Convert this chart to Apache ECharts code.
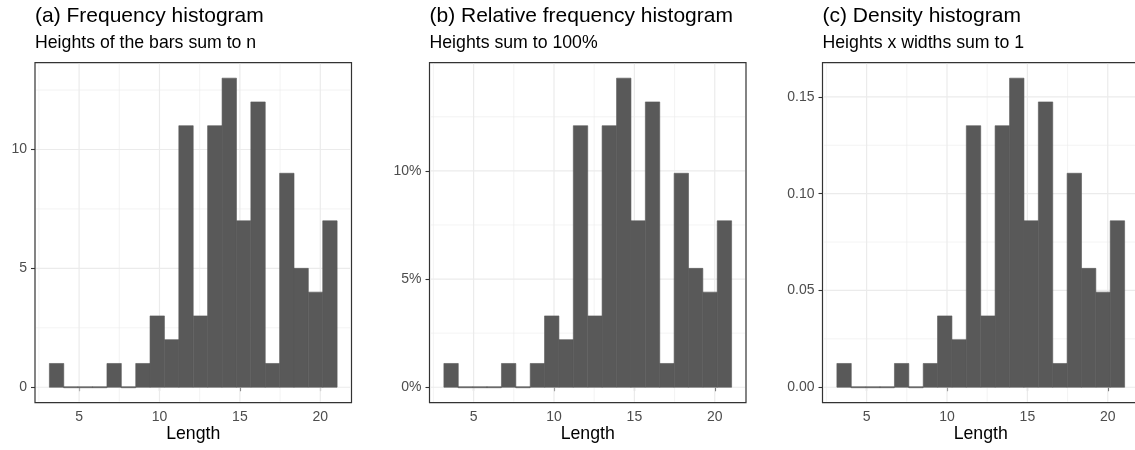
<!DOCTYPE html>
<html>
<head>
<meta charset="utf-8">
<script src="https://cdn.jsdelivr.net/npm/echarts@6/dist/echarts.min.js"></script>
<style>
html,body{margin:0;padding:0;background:#fff;overflow:hidden;}
#chart{width:1150px;height:450px;}
</style>
</head>
<body>
<div id="chart"></div>
<script>
// ---- data ----
const binCenters = [3.60, 4.49, 5.39, 6.28, 7.18, 8.07, 8.97, 9.86, 10.76, 11.65,
                    12.55, 13.44, 14.34, 15.23, 16.13, 17.02, 17.92, 18.81, 19.71, 20.60];
const binWidth = 0.8947;
const counts = [1, 0, 0, 0, 1, 0, 1, 3, 2, 11, 3, 11, 13, 7, 12, 1, 9, 5, 4, 7];
const n = counts.reduce((a, b) => a + b, 0);
const relFreq = counts.map(c => c / n * 100);            // percent
const density = counts.map(c => c / (n * binWidth));

const titles = ['(a) Frequency histogram', '(b) Relative frequency histogram', '(c) Density histogram'];
const subtitles = ['Heights of the bars sum to n', 'Heights sum to 100%', 'Heights x widths sum to 1'];
const xTitle = 'Length';

const xMajor = [5, 10, 15, 20];
const xMinor = [2.5, 7.5, 12.5, 17.5];
const yMajorA = [0, 5, 10];
const yMinorA = [2.5, 7.5, 12.5];
const yMajorB = [0, 5, 10];
const yMinorB = [2.5, 7.5, 12.5];
const yMajorC = [0, 0.05, 0.10, 0.15];
const yMinorC = [0.025, 0.075, 0.125];

// ---- layout ----
const FONT = '"Liberation Sans", Arial, Helvetica, sans-serif';
const panels = [
  { left: 35, values: counts, yMajor: yMajorA, yMinor: yMinorA, fmt: v => String(v) },
  { left: 429.5, values: relFreq, yMajor: yMajorB, yMinor: yMinorB, fmt: v => v + '%' },
  { left: 822.5, values: density, yMajor: yMajorC, yMinor: yMinorC, fmt: v => v.toFixed(2) }
];
const PW = 316.5, PT = 62.7, PH = 340;

function expand(lo, hi) { const r = hi - lo; return [lo - 0.05 * r, hi + 0.05 * r]; }
const xExt = expand(binCenters[0] - binWidth / 2, binCenters[binCenters.length - 1] + binWidth / 2);

const grids = [], xAxes = [], yAxes = [], series = [], graphics = [];
panels.forEach((p, i) => {
  const yExt = expand(0, Math.max(...p.values));
  grids.push({ left: p.left, top: PT, width: PW, height: PH, show: true,
    backgroundColor: '#ffffff', borderColor: '#333333', borderWidth: 1.2 });
  xAxes.push({ type: 'value', gridIndex: i, min: xExt[0], max: xExt[1],
    axisLine: { show: false }, splitLine: { show: false },
    axisTick: { show: true, customValues: xMajor, length: 4, lineStyle: { color: '#333333', width: 1.1 } },
    axisLabel: { customValues: xMajor, margin: 7, color: '#4D4D4D', fontSize: 14, fontFamily: FONT,
      formatter: v => String(v) } });
  yAxes.push({ type: 'value', gridIndex: i, min: yExt[0], max: yExt[1],
    axisLine: { show: false }, splitLine: { show: false },
    axisTick: { show: true, customValues: p.yMajor, length: 4, lineStyle: { color: '#333333', width: 1.1 } },
    axisLabel: { customValues: p.yMajor, margin: 8, color: '#4D4D4D', fontSize: 14, fontFamily: FONT,
      formatter: p.fmt } });
  // gridlines
  series.push({
    type: 'custom', xAxisIndex: i, yAxisIndex: i, z: 1, silent: true,
    data: [[xMajor[0], 0]],
    renderItem: function (params, api) {
      const cs = params.coordSys;
      const children = [];
      const addV = (v, w) => { const x = api.coord([v, 0])[0];
        children.push({ type: 'line', shape: { x1: x, y1: cs.y + 1, x2: x, y2: cs.y + cs.height - 1 },
          style: { stroke: '#EBEBEB', lineWidth: w } }); };
      const addH = (v, w) => { const y = api.coord([xMajor[0], v])[1];
        children.push({ type: 'line', shape: { x1: cs.x + 1, y1: y, x2: cs.x + cs.width - 1, y2: y },
          style: { stroke: '#EBEBEB', lineWidth: w } }); };
      xMinor.forEach(v => addV(v, 0.6));
      p.yMinor.forEach(v => addH(v, 0.6));
      xMajor.forEach(v => addV(v, 1.2));
      p.yMajor.forEach(v => addH(v, 1.2));
      return { type: 'group', children };
    }
  });
  // bars
  series.push({
    type: 'custom', xAxisIndex: i, yAxisIndex: i, z: 2,
    data: binCenters.map((c, k) => [c, p.values[k]]),
    renderItem: function (params, api) {
      const c = api.value(0), v = api.value(1);
      const p0 = api.coord([c - binWidth / 2, 0]);
      const p1 = api.coord([c + binWidth / 2, v]);
      let h = p0[1] - p1[1], y = p1[1];
      if (h < 1) { h = 1; y = p0[1] - 0.5; }
      return { type: 'rect', shape: { x: p0[0], y: y, width: p1[0] - p0[0], height: h },
        style: { fill: '#595959', stroke: '#595959', lineWidth: 0.6 } };
    }
  });
  graphics.push({ type: 'text', x: p.left, y: 16.3, style: { text: titles[i], font: '21px ' + FONT,
    fill: '#000000', verticalAlign: 'middle', align: 'left' } });
  graphics.push({ type: 'text', x: p.left, y: 43.3, style: { text: subtitles[i], font: '17.7px ' + FONT,
    fill: '#000000', verticalAlign: 'middle', align: 'left' } });
  graphics.push({ type: 'text', x: p.left + PW / 2, y: 434, style: { text: xTitle, font: '17.7px ' + FONT,
    fill: '#000000', verticalAlign: 'middle', align: 'center' } });
});

const chart = echarts.init(document.getElementById('chart'), null, { renderer: 'canvas' });
chart.setOption({
  animation: false,
  backgroundColor: '#ffffff',
  grid: grids, xAxis: xAxes, yAxis: yAxes, series: series,
  graphic: graphics
});
</script>
</body>
</html>
